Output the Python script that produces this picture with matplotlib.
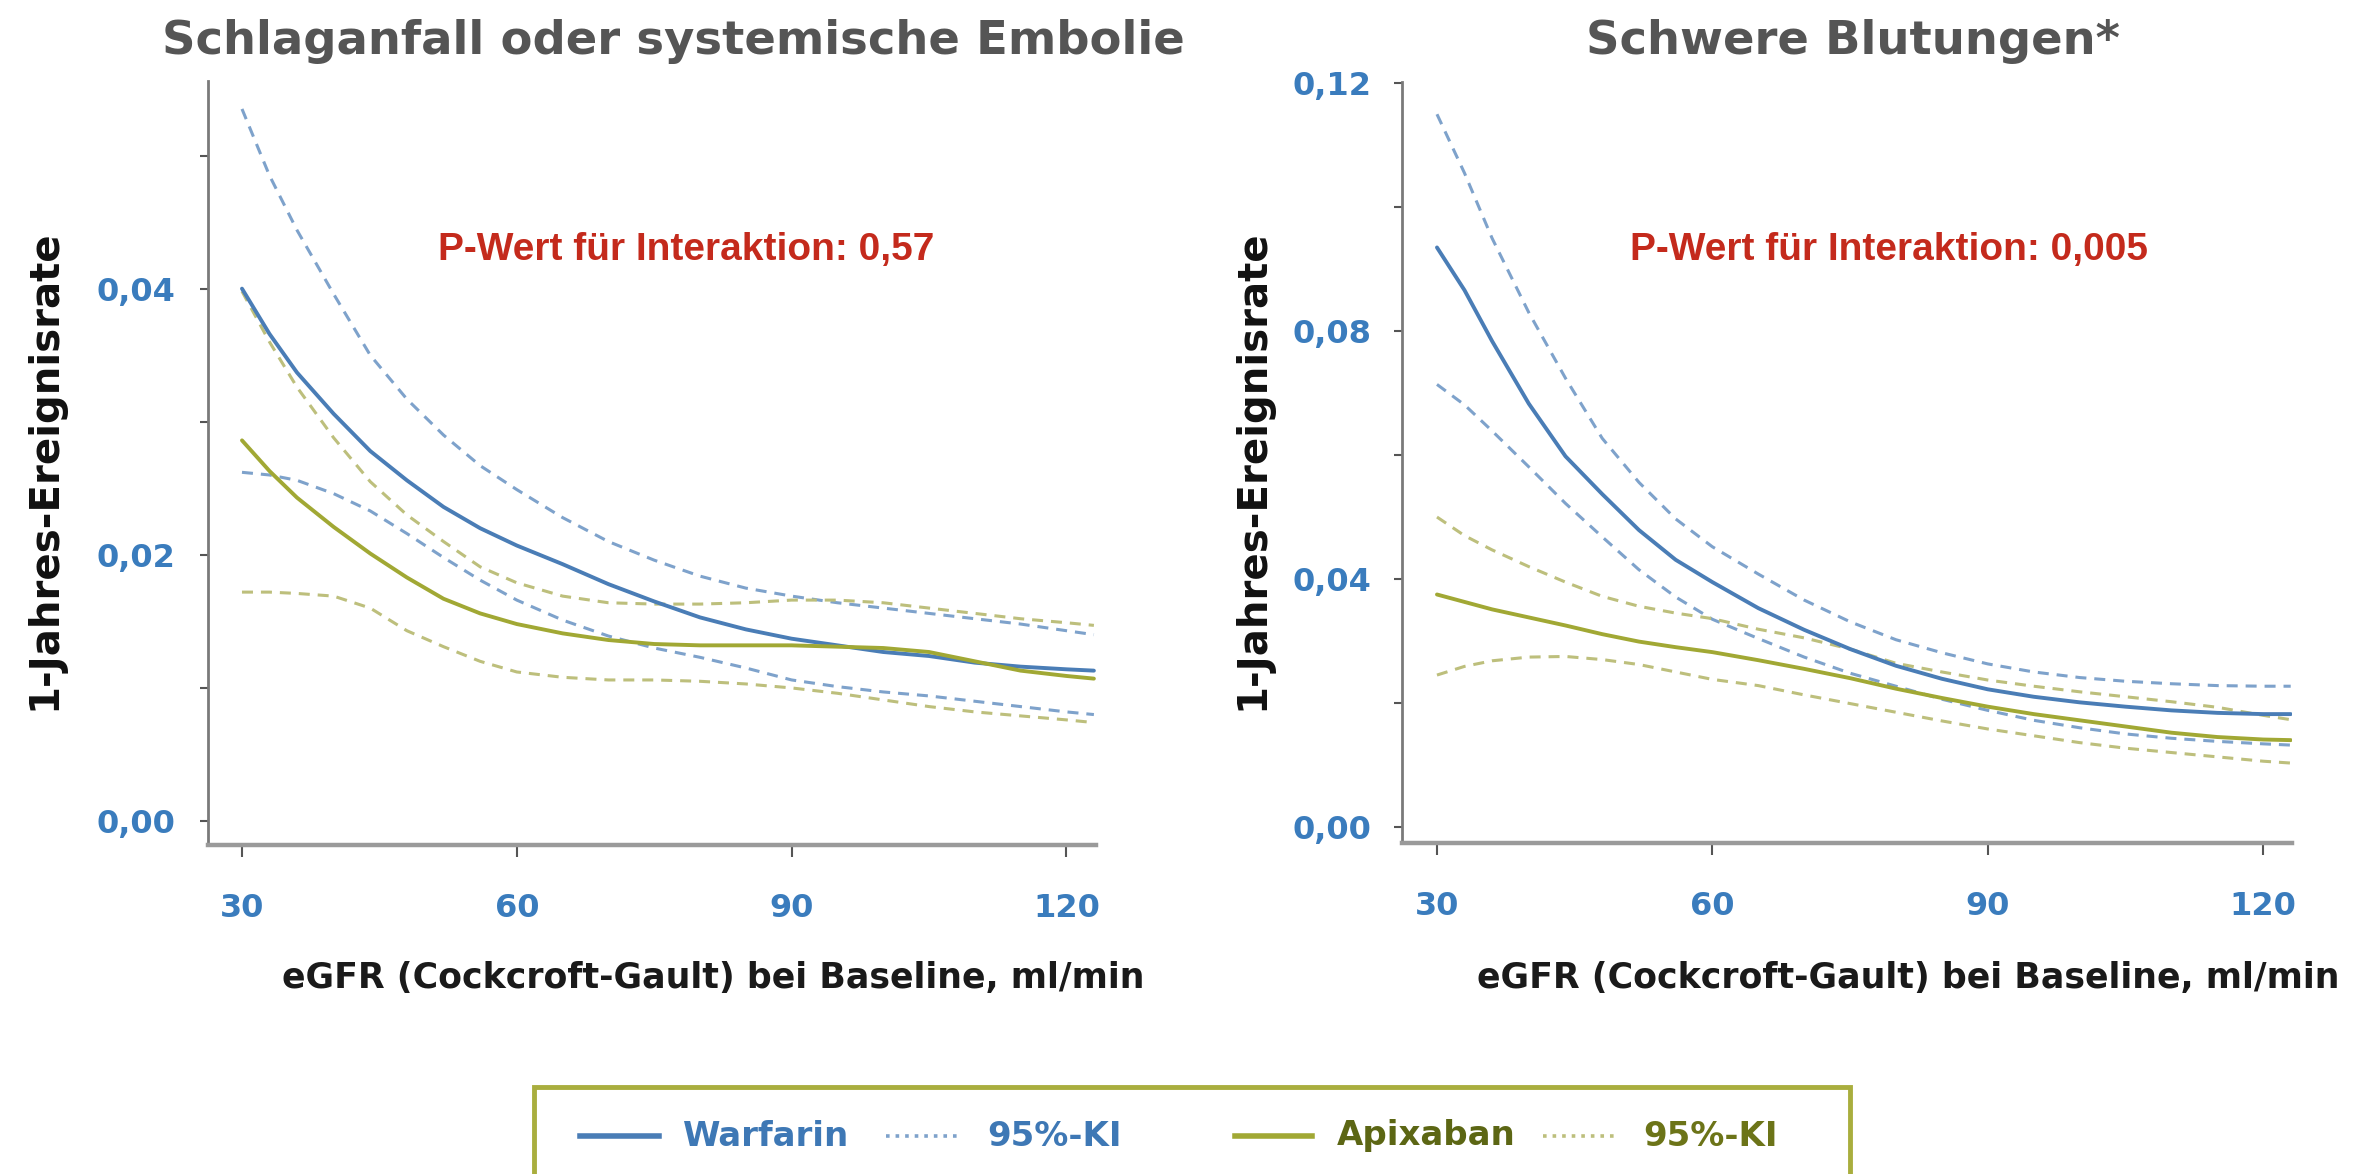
"""Apixaban vs. Warfarin: 1-Jahres-Ereignisrate nach eGFR (zwei Panels)."""

import matplotlib
matplotlib.use("Agg")
import matplotlib.pyplot as plt
from matplotlib import font_manager
from matplotlib.lines import Line2D
from matplotlib.patches import Rectangle
from matplotlib.ticker import FuncFormatter

W, H = 2367, 1174

# eGFR grid (ml/min) shared by all curves
EGFR = [30, 33, 36, 40, 44, 48, 52, 56, 60, 65, 70, 75, 80, 85, 90, 95, 100, 105, 110, 115, 120, 123]

# Schlaganfall oder systemische Embolie
STROKE_WARF = [.0400, .0366, .0337, .0306, .0278, .0256, .0236, .0220, .0207, .0193, .0178,
               .0165, .0153, .0144, .0137, .0132, .0127, .0124, .0119, .0116, .0114, .0113]
STROKE_WARF_HI = [.0535, .0485, .0444, .0396, .0350, .0317, .0290, .0267, .0249, .0228, .0210,
                  .0196, .0184, .0175, .0169, .0164, .0160, .0156, .0152, .0148, .0143, .0140]
STROKE_WARF_LO = [.0262, .0260, .0256, .0246, .0233, .0216, .0198, .0181, .0166, .0151, .0139,
                  .0130, .0123, .0115, .0106, .0101, .0097, .0094, .0090, .0086, .0082, .0080]
STROKE_APIX = [.0286, .0263, .0243, .0221, .0201, .0183, .0167, .0156, .0148, .0141, .0136,
               .0133, .0132, .0132, .0132, .0131, .0130, .0127, .0120, .0113, .0109, .0107]
STROKE_APIX_HI = [.0398, .0360, .0326, .0288, .0255, .0230, .0210, .0191, .0179, .0169, .0164,
                  .0163, .0163, .0164, .0166, .0166, .0164, .0160, .0156, .0152, .0149, .0147]
STROKE_APIX_LO = [.0172, .0172, .0171, .0169, .0160, .0143, .0131, .0120, .0112, .0108, .0106,
                  .0106, .0105, .0103, .0100, .0096, .0091, .0086, .0082, .0079, .0076, .0074]

# Schwere Blutungen
BLEED_WARF = [.0935, .0866, .0784, .0683, .0598, .0537, .0479, .0431, .0395, .0353, .0318,
              .0287, .0260, .0239, .0222, .0210, .0201, .0194, .0188, .0184, .0182, .0182]
BLEED_WARF_HI = [.1150, .1055, .0950, .0830, .0724, .0627, .0556, .0497, .0452, .0408, .0366,
                 .0331, .0302, .0281, .0263, .0250, .0241, .0235, .0231, .0228, .0227, .0227]
BLEED_WARF_LO = [.0714, .0681, .0639, .0581, .0522, .0468, .0415, .0371, .0335, .0304, .0274,
                 .0248, .0227, .0206, .0188, .0172, .0160, .0150, .0143, .0138, .0134, .0132]
BLEED_APIX = [.0375, .0363, .0351, .0338, .0325, .0311, .0299, .0290, .0282, .0269, .0255,
              .0240, .0223, .0208, .0194, .0182, .0172, .0162, .0152, .0145, .0141, .0140]
BLEED_APIX_HI = [.0500, .0470, .0447, .0420, .0395, .0372, .0356, .0345, .0336, .0319, .0305,
                 .0287, .0264, .0250, .0237, .0227, .0218, .0210, .0202, .0193, .0180, .0173]
BLEED_APIX_LO = [.0245, .0259, .0268, .0274, .0275, .0270, .0262, .0250, .0238, .0228, .0213,
                 .0199, .0185, .0171, .0158, .0147, .0136, .0127, .0120, .0113, .0106, .0103]

X_TICKS = [30, 60, 90, 120]
STROKE_YTICKS = [0.00, 0.02, 0.04]
STROKE_YMINOR = [0.01, 0.03, 0.05]
BLEED_YTICKS = [0.00, 0.04, 0.08, 0.12]
BLEED_YMINOR = [0.02, 0.06, 0.10]

TITLES = ["Schlaganfall oder systemische Embolie", "Schwere Blutungen*"]
P_TEXTS = ["P-Wert für Interaktion: 0,57", "P-Wert für Interaktion: 0,005"]
X_LABEL = "eGFR (Cockcroft-Gault) bei Baseline, ml/min"
Y_LABEL = "1-Jahres-Ereignisrate"

BLUE = "#4a7db6"
BLUE_CI = "#7ea2cb"
OLIVE = "#a1a834"
OLIVE_CI = "#bdbf7c"
TICK_BLUE = "#3a7cbd"
RED = "#c42a1c"
LEGEND_OLIVE = "#a9ae3e"


def fx(px):
    return px / W


def fy(py):
    return 1 - py / H


def p_font():
    names = {f.name for f in font_manager.fontManager.ttflist}
    if "Liberation Sans Narrow" in names:
        return "Liberation Sans Narrow", 33
    return "Liberation Sans", 28


def plot_panel(fig, rect, xlim, ylim, curves, yticks, yminor, ypad):
    ax = fig.add_axes(rect)
    warf, warf_hi, warf_lo, apix, apix_hi, apix_lo = curves
    dash = dict(lw=2.2, dashes=(3.6, 2.6))
    ax.plot(EGFR, warf_hi, color=BLUE_CI, **dash)
    ax.plot(EGFR, warf_lo, color=BLUE_CI, **dash)
    ax.plot(EGFR, apix_hi, color=OLIVE_CI, **dash)
    ax.plot(EGFR, apix_lo, color=OLIVE_CI, **dash)
    ax.plot(EGFR, warf, color=BLUE, lw=2.8, solid_capstyle="round", solid_joinstyle="round")
    ax.plot(EGFR, apix, color=OLIVE, lw=2.8, solid_capstyle="round", solid_joinstyle="round")

    ax.set_xlim(*xlim)
    ax.set_ylim(*ylim)
    ax.set_xticks(X_TICKS)
    ax.set_yticks(yticks)
    ax.set_yticks(yminor, minor=True)
    ax.yaxis.set_major_formatter(FuncFormatter(lambda v, p: f"{v:.2f}".replace(".", ",")))

    for side in ("top", "right"):
        ax.spines[side].set_visible(False)
    ax.spines["left"].set_color("#7a7a7a")
    ax.spines["left"].set_linewidth(2.0)
    ax.spines["bottom"].set_color("#9a9a9a")
    ax.spines["bottom"].set_linewidth(3.2)

    ax.tick_params(axis="y", which="both", direction="out", length=5.8, width=1.5,
                   color="#555555", pad=ypad, labelsize=23, labelcolor=TICK_BLUE)
    ax.tick_params(axis="x", direction="out", length=8.6, width=1.5, color="#555555",
                   pad=26, labelsize=23, labelcolor=TICK_BLUE)
    for lab in ax.get_xticklabels() + ax.get_yticklabels():
        lab.set_fontweight("bold")
    return ax


def draw_legend(fig):
    fig.add_artist(Rectangle((fx(534), fy(1200)), fx(1850) - fx(534), fy(1087) - fy(1200),
                             transform=fig.transFigure, fill=False,
                             edgecolor=LEGEND_OLIVE, lw=3.5))
    yl = fy(1136)
    entries = [
        (580, 659, "-", BLUE, 683, "Warfarin", "#3e78b5"),
        (886, 962, ":", BLUE_CI, 987, "95%-KI", "#3e78b5"),
        (1235, 1312, "-", OLIVE, 1337, "Apixaban", "#5c6614"),
        (1543, 1616, ":", OLIVE_CI, 1643, "95%-KI", "#6c7418"),
    ]
    for x0, x1, ls, col, xt, label, tcol in entries:
        lw = 4.0 if ls == "-" else 2.6
        fig.add_artist(Line2D([fx(x0), fx(x1)], [yl, yl], transform=fig.transFigure,
                              color=col, lw=lw, linestyle=ls))
        fig.text(fx(xt), yl, label, ha="left", va="center", fontsize=24.5,
                 fontweight="bold", color=tcol)


def main():
    plt.rcParams["font.family"] = "DejaVu Sans"
    fig = plt.figure(figsize=(W / 100, H / 100), dpi=100)
    fig.patch.set_facecolor("white")
    pfam, psize = p_font()

    # pixel geometry of the two panels: (left, right, top, bottom)
    panels = [
        dict(box=(208, 1096, 81, 845), xlim=(26.29, 123.23), ylim=(-0.0018, 0.0556),
             curves=(STROKE_WARF, STROKE_WARF_HI, STROKE_WARF_LO,
                     STROKE_APIX, STROKE_APIX_HI, STROKE_APIX_LO),
             yticks=STROKE_YTICKS, yminor=STROKE_YMINOR, ypad=18,
             title_x=673, ptext_x=438, xlabel_x=713, ylabel_x=44),
        dict(box=(1402, 2292, 82, 843), xlim=(26.19, 123.14), ylim=(-0.0026, 0.1202),
             curves=(BLEED_WARF, BLEED_WARF_HI, BLEED_WARF_LO,
                     BLEED_APIX, BLEED_APIX_HI, BLEED_APIX_LO),
             yticks=BLEED_YTICKS, yminor=BLEED_YMINOR, ypad=16.5,
             title_x=1853, ptext_x=1630, xlabel_x=1908, ylabel_x=1252),
    ]

    for i, p in enumerate(panels):
        l, r, t, b = p["box"]
        rect = [fx(l), fy(b), fx(r) - fx(l), fy(t) - fy(b)]
        plot_panel(fig, rect, p["xlim"], p["ylim"], p["curves"], p["yticks"],
                   p["yminor"], p["ypad"])
        fig.text(fx(p["title_x"]), fy(54), TITLES[i], ha="center", va="baseline",
                 fontsize=33.5, fontweight="bold", color="#555555")
        fig.text(fx(p["ptext_x"]), fy(260), P_TEXTS[i], ha="left", va="baseline",
                 fontsize=psize, fontweight="bold", color=RED, family=pfam)
        fig.text(fx(p["xlabel_x"]), fy(988), X_LABEL, ha="center", va="baseline",
                 fontsize=25, fontweight="bold", color="#1a1a1a")
        fig.text(fx(p["ylabel_x"]), fy(470), Y_LABEL, ha="center", va="center",
                 rotation=90, fontsize=29, fontweight="bold", color="#111111")

    draw_legend(fig)
    fig.savefig("out.png", dpi=100)
    plt.close(fig)


if __name__ == "__main__":
    main()
